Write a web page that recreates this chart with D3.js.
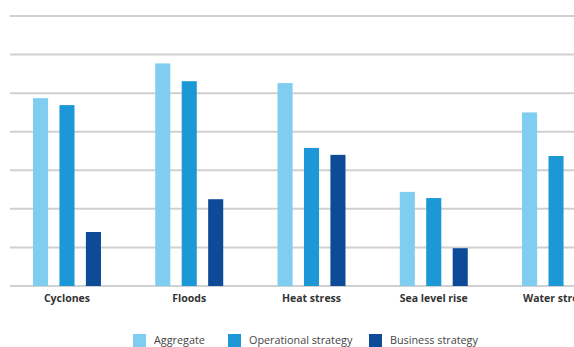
<!DOCTYPE html>
<html lang="en">
<head>
<meta charset="UTF-8">
<title>Climate hazards</title>
<style>
  body { margin: 0; background: #fff; }
  svg { display: block; font-family: "Open Sans", sans-serif; }
</style>
</head>
<body>
<div id="chart"></div>
<script src="https://cdnjs.cloudflare.com/ajax/libs/d3/7.8.5/d3.min.js"></script>
<script>
const categories = ["Cyclones", "Floods", "Heat stress", "Sea level rise", "Water stress"];
const seriesNames = ["Aggregate", "Operational strategy", "Business strategy"];
const aggregate = [4.87, 5.77, 5.26, 2.44, 4.50];
const operational = [4.69, 5.31, 3.58, 2.28, 3.37];
const business = [1.40, 2.25, 3.40, 0.98, 2.0];
const yTicks = [0, 1, 2, 3, 4, 5, 6, 7];
const colors = ["#7fcdf0", "#1b98d5", "#0d4a98"];

const width = 574, height = 347;
const svg = d3.select("#chart").append("svg")
    .attr("width", width)
    .attr("height", height);

const series = [aggregate, operational, business];
const rows = categories.map((c, i) => ({ cat: c, vals: series.map(s => s[i]) }));

const x = d3.scaleBand()
    .domain(categories)
    .range([10, 613])
    .paddingInner(0.444)
    .paddingOuter(0.188);
const xSub = d3.scaleBand()
    .domain(seriesNames)
    .range([0, x.bandwidth()])
    .paddingInner(0.43)
    .paddingOuter(0);
const y = d3.scaleLinear().domain([0, 7]).range([286, 16]);

// gridlines
svg.append("g")
    .selectAll("line")
    .data(yTicks)
    .join("line")
    .attr("x1", 10)
    .attr("x2", width)
    .attr("y1", d => y(d))
    .attr("y2", d => y(d))
    .attr("stroke", "#d0d0d0")
    .attr("stroke-width", 2);

// bars
const groups = svg.append("g")
    .selectAll("g")
    .data(rows)
    .join("g")
    .attr("transform", d => `translate(${x(d.cat)},0)`);
groups.selectAll("rect")
    .data(d => d.vals.map((v, j) => ({ name: seriesNames[j], v, j })))
    .join("rect")
    .attr("x", d => xSub(d.name))
    .attr("y", d => y(d.v))
    .attr("width", xSub.bandwidth())
    .attr("height", d => y(0) - y(d.v))
    .attr("fill", d => colors[d.j]);

// category labels
const xAxis = svg.append("g")
    .attr("transform", `translate(0,${y(0)})`)
    .call(d3.axisBottom(x).tickSize(0).tickPadding(9));
xAxis.select(".domain").remove();
xAxis.selectAll("text")
    .attr("font-size", 10.5)
    .attr("font-weight", "bold")
    .attr("fill", "#333")
    .style("font-family", "'Open Sans', sans-serif");

// legend
const legendX = [133, 228, 369];
const legend = svg.append("g")
    .selectAll("g")
    .data(seriesNames)
    .join("g")
    .attr("transform", (d, i) => `translate(${legendX[i]},334)`);
legend.append("rect")
    .attr("width", 13)
    .attr("height", 13)
    .attr("fill", (d, i) => colors[i]);
legend.append("text")
    .attr("x", 21)
    .attr("y", 10)
    .attr("font-size", 10.8)
    .attr("fill", "#444")
    .text(d => d);
</script>
</body>
</html>
